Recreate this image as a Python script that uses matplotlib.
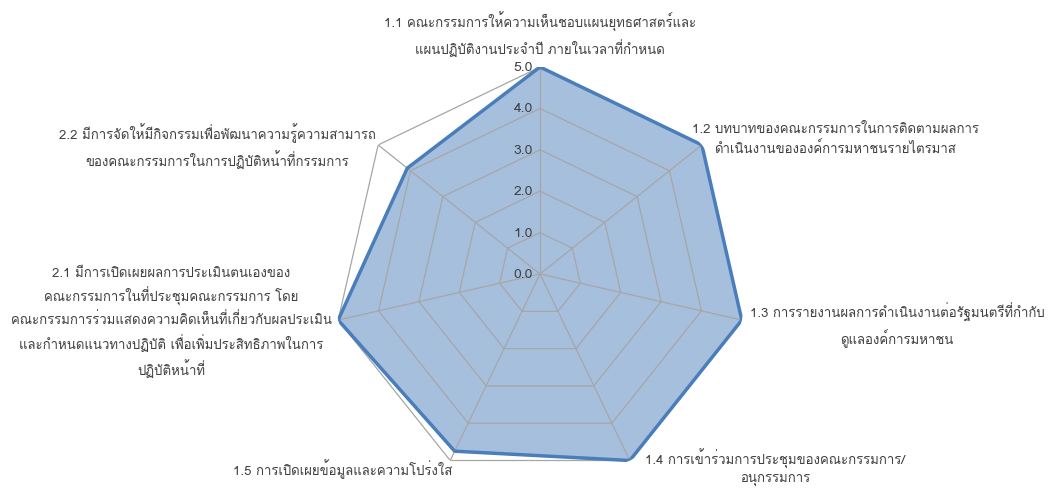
import numpy as np
import matplotlib
matplotlib.use("Agg")
import matplotlib.pyplot as plt
from matplotlib import font_manager, ft2font

# data
categories = [
    "1.1 คณะกรรมการให้ความเห็นชอบแผนยุทธศาสตร์และ\nแผนปฏิบัติงานประจำปี ภายในเวลาที่กำหนด",
    "1.2 บทบาทของคณะกรรมการในการติดตามผลการ\nดำเนินงานขององค์การมหาชนรายไตรมาส",
    "1.3 การรายงานผลการดำเนินงานต่อรัฐมนตรีที่กำกับ\nดูแลองค์การมหาชน",
    "1.4 การเข้าร่วมการประชุมของคณะกรรมการ/\nอนุกรรมการ",
    "1.5 การเปิดเผยข้อมูลและความโปร่งใส",
    "2.1 มีการเปิดเผยผลการประเมินตนเองของ\nคณะกรรมการในที่ประชุมคณะกรรมการ โดย\nคณะกรรมการร่วมแสดงความคิดเห็นที่เกี่ยวกับผลประเมิน\nและกำหนดแนวทางปฏิบัติ เพื่อเพิ่มประสิทธิภาพในการ\nปฏิบัติหน้าที่",
    "2.2 มีการจัดให้มีกิจกรรมเพื่อพัฒนาความรู้ความสามารถ\nของคณะกรรมการในการปฏิบัติหน้าที่กรรมการ",
]
scores = [5.0, 5.0, 5.0, 5.0, 4.75, 5.0, 4.1]
levels = [0, 1, 2, 3, 4, 5]
level_labels = ["0.0", "1.0", "2.0", "3.0", "4.0", "5.0"]

# label placement (figure pixels: x centre, y top) - layout only
label_pos = [(540, 12), (835, 123), (897, 303), (775, 449),
             (343, 459), (171, 268), (217, 123)]


def find_thai_font():
    for f in font_manager.fontManager.ttflist:
        try:
            if 0x0E01 in ft2font.FT2Font(f.fname).get_charmap():
                return f.name
        except Exception:
            pass
    return "DejaVu Sans"


thai = find_thai_font()
plt.rcParams["font.family"] = [thai, "DejaVu Sans"]

W, H = 1054, 489
fig = plt.figure(figsize=(W / 100, H / 100), dpi=100)
cx, cy, R = 540, 275, 207
ax = fig.add_axes([(cx - R) / W, (H - cy - R) / H, 2 * R / W, 2 * R / H],
                  projection="polar")
ax.set_theta_offset(np.pi / 2)
ax.set_theta_direction(-1)
ax.set_ylim(0, 5)
ax.grid(False)
ax.spines["polar"].set_visible(False)
ax.set_xticks([])
ax.set_yticks([])

n = len(categories)
angles = np.arange(n) * 2 * np.pi / n
closed = np.append(angles, angles[0])

grid_col = "#a6a6a6"
for lv in levels[1:]:
    ax.plot(closed, [lv] * (n + 1), color=grid_col, lw=0.9, zorder=2.5)
for a in angles:
    ax.plot([a, a], [0, levels[-1]], color=grid_col, lw=0.9, zorder=2.5)

vals = np.append(scores, scores[0])
ax.fill(closed, vals, color="#4f81bd", alpha=0.5, lw=0, zorder=2)
ax.plot(closed, vals, color="#4a7ebb", lw=2.5, zorder=3)

for lv, txt in zip(levels, level_labels):
    ax.annotate(txt, (0, lv), xytext=(-5, 0), textcoords="offset points",
                ha="right", va="center", fontsize=10, color="#404040",
                annotation_clip=False)

for txt, (x, y) in zip(categories, label_pos):
    fig.text(x / W, 1 - y / H, txt, ha="center", va="top", fontsize=9.5,
             color="#404040", linespacing=1.46, multialignment="center")

fig.savefig("out.png", dpi=100)
